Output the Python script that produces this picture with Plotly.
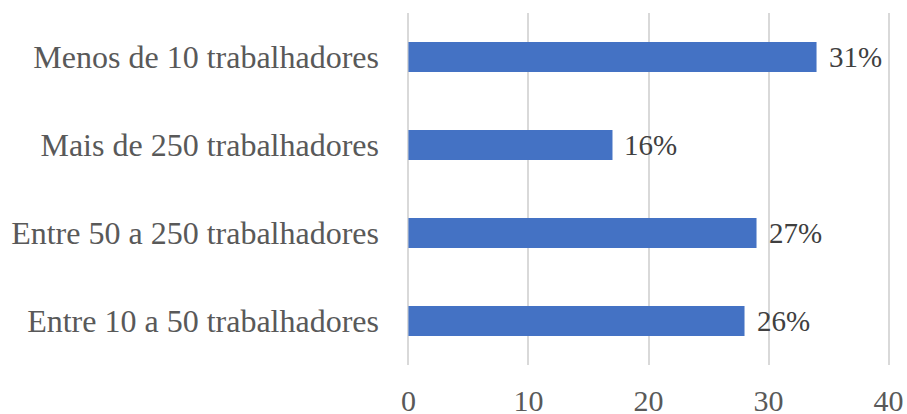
import plotly.graph_objects as go

categories = ["Entre 10 a 50 trabalhadores", "Entre 50 a 250 trabalhadores",
              "Mais de 250 trabalhadores", "Menos de 10 trabalhadores"]
values = [28, 29, 17, 34]
pct_labels = ["26%", "27%", "16%", "31%"]
x_ticks = [0, 10, 20, 30, 40]

FONT = "Liberation Serif"

fig = go.Figure()
fig.add_trace(go.Bar(
    y=categories, x=values, orientation="h",
    marker=dict(color="#4472C4", line=dict(width=0)),
    width=0.34, cliponaxis=False, hoverinfo="skip",
))
for c, v, t in zip(categories, values, pct_labels):
    fig.add_annotation(x=v, y=c, text=t, showarrow=False, xanchor="left",
                       xshift=10, font=dict(family=FONT, size=29, color="#404040"))

fig.update_layout(
    width=907, height=414,
    margin=dict(l=407, r=17, t=13, b=49, autoexpand=False),
    paper_bgcolor="white", plot_bgcolor="white",
    showlegend=False,
    font=dict(family=FONT, size=30, color="#595959"),
)
fig.update_xaxes(range=[-0.12, 40.12], tickvals=x_ticks, showgrid=True, gridcolor="#D9D9D9",
                 gridwidth=2, zeroline=False, showline=False, ticks="", automargin=False,
                 ticklabelstandoff=15,
                 tickfont=dict(family=FONT, size=30, color="#595959"))
fig.update_yaxes(categoryorder="array", categoryarray=categories, showgrid=False,
                 zeroline=False, showline=False, ticks="", ticklabelstandoff=27,
                 automargin=False,
                 tickfont=dict(family=FONT, size=32, color="#595959"))

fig.write_html("out.html", config={"displayModeBar": False},
               post_script="document.body.style.margin='0';document.body.style.overflow='hidden';")
